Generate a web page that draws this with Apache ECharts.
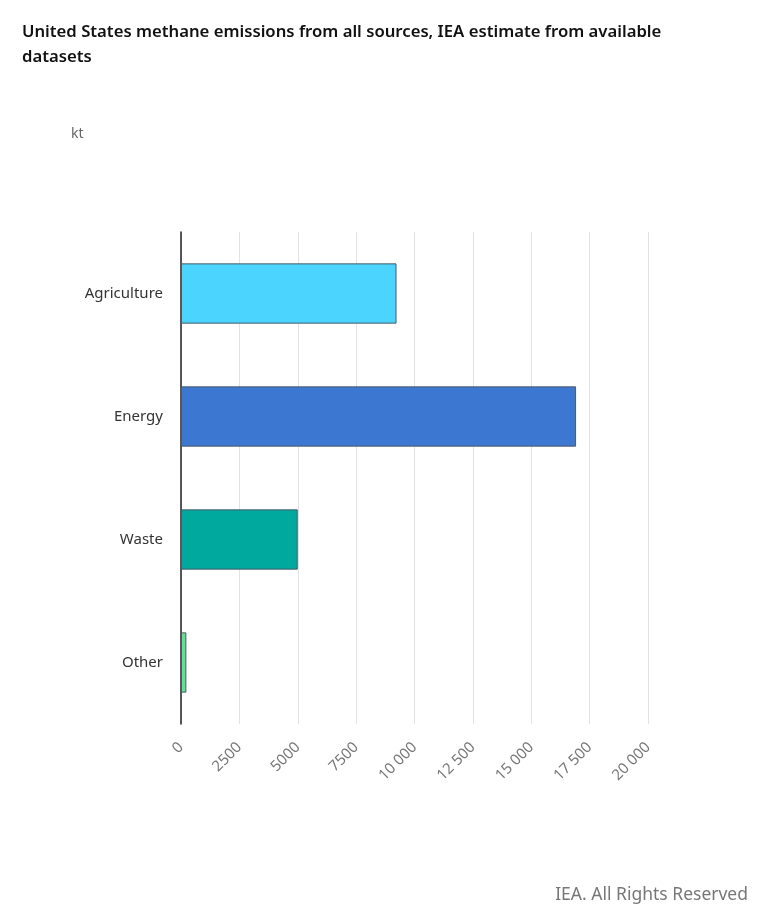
<!DOCTYPE html>
<html>
<head>
<meta charset="utf-8">
<script src="https://cdn.jsdelivr.net/npm/echarts@6/dist/echarts.min.js"></script>
<style>
html,body{margin:0;padding:0;background:#fff;}
#chart{width:768px;height:920px;}
</style>
</head>
<body>
<div id="chart"></div>
<script>
const categories = ['Agriculture', 'Energy', 'Waste', 'Other'];
const values = [9230, 16920, 5000, 230];
const barColors = ['#4AD4FE', '#3C78D2', '#00A99D', '#60E38F'];
const xTicks = [0, 2500, 5000, 7500, 10000, 12500, 15000, 17500, 20000];

const chart = echarts.init(document.getElementById('chart'));
function fmt(v) {
  if (v >= 10000) {
    const s = String(v);
    return s.slice(0, s.length - 3) + ' ' + s.slice(-3);
  }
  return String(v);
}
chart.setOption({
  animation: false,
  backgroundColor: '#fff',
  title: [
    {
      text: 'United States methane emissions from all sources, IEA estimate from available\ndatasets',
      left: 17, top: 15,
      textStyle: { fontFamily: 'Noto Sans', fontSize: 16.7, fontWeight: 600, color: '#111', lineHeight: 25 }
    },
    {
      text: 'kt', left: 66, top: 122,
      textStyle: { fontFamily: 'Noto Sans', fontSize: 14, fontWeight: 'normal', color: '#666' }
    },
    {
      text: 'IEA. All Rights Reserved', right: 15, top: 881,
      textStyle: { fontFamily: 'Noto Sans', fontSize: 17.5, fontWeight: 'normal', color: '#777' }
    }
  ],
  grid: { left: 181, right: 120, top: 232, bottom: 196, containLabel: false },
  xAxis: {
    type: 'value', min: 0, max: 20000, interval: 2500,
    axisLine: { show: false }, axisTick: { show: false },
    splitLine: { show: true, lineStyle: { color: '#e2e2e2', width: 1 } },
    axisLabel: {
      rotate: 45, margin: 21, color: '#777', fontFamily: 'Noto Sans', fontSize: 15,
      formatter: v => xTicks.includes(v) ? fmt(v) : ''
    }
  },
  yAxis: {
    type: 'category', data: categories, inverse: true,
    axisLine: { show: true, lineStyle: { color: '#222', width: 1.5 } },
    axisTick: { show: false },
    axisLabel: { color: '#333', fontFamily: 'Noto Sans', fontSize: 15, margin: 18, padding: [9, 0, 0, 0] }
  },
  series: [{
    type: 'bar',
    barWidth: '49%',
    data: values.map((v, i) => ({
      value: v,
      itemStyle: { color: barColors[i], borderColor: '#4a5a66', borderWidth: 1 }
    }))
  }]
});
</script>
</body>
</html>
